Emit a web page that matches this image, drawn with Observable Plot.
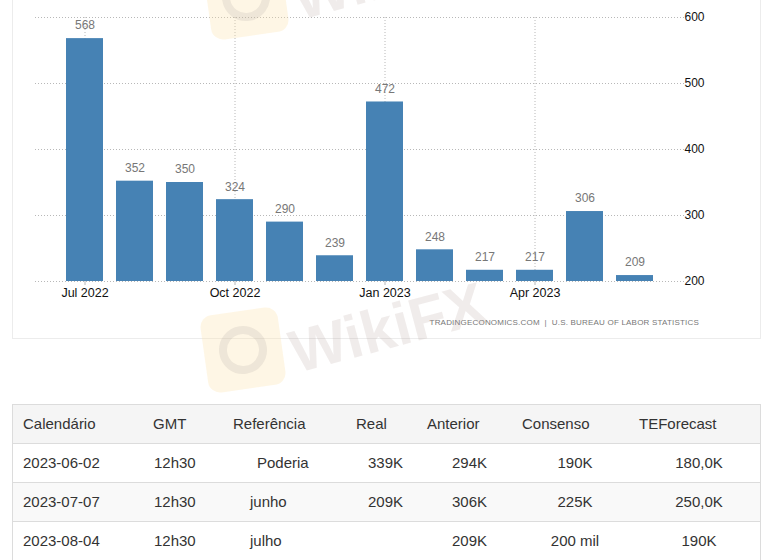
<!DOCTYPE html>
<html>
<head>
<meta charset="utf-8">
<script src="https://cdn.jsdelivr.net/npm/d3@7"></script>
<script src="https://cdn.jsdelivr.net/npm/@observablehq/plot@0.6"></script>
<style>
  html, body { margin: 0; padding: 0; background: #fff; }
  body { width: 769px; height: 560px; position: relative; overflow: hidden; font-family: "Liberation Sans", Arial, sans-serif; }
  #panel { position: absolute; left: 12px; top: -12px; width: 749px; height: 351px; border: 1px solid #ececec; box-sizing: border-box; }
  #chart { position: absolute; left: 0; top: 0; }
  #source { position: absolute; right: 70px; top: 318px; font-size: 8px; letter-spacing: 0.2px; color: #777; white-space: pre; }
  #table { position: absolute; left: 12px; top: 404px; width: 749px; border: 1px solid #dcdcdc; border-bottom: none; box-sizing: border-box; color: #333; font-size: 15px; }
  .row { position: relative; height: 38px; border-bottom: 1px solid #dcdcdc; }
  .row.head { background: #f5f5f5; }
  .row.alt { background: #f9f9f9; }
  .cell { position: absolute; top: 0; line-height: 38px; white-space: nowrap; }
  .wm { position: absolute; pointer-events: none; }
</style>
</head>
<body>
<div id="panel"></div>
<div id="chart"></div>
<div id="source">TRADINGECONOMICS.COM  |  U.S. BUREAU OF LABOR STATISTICS</div>
<div id="table"></div>
<script>
// ---- chart data ----
const months = ["2022-07","2022-08","2022-09","2022-10","2022-11","2022-12","2023-01","2023-02","2023-03","2023-04","2023-05","2023-06"];
const values = [568, 352, 350, 324, 290, 239, 472, 248, 217, 217, 306, 209];
const baseline = 200;
const tickMonths = ["2022-07","2022-10","2023-01","2023-04"];
const tickLabels = ["Jul 2022","Oct 2022","Jan 2023","Apr 2023"];
const yTicks = [200, 300, 400, 500, 600];

// ---- table data ----
const headers = ["Calendário","GMT","Referência","Real","Anterior","Consenso","TEForecast"];
const colCalendar = ["2023-06-02","2023-07-07","2023-08-04"];
const colGMT = ["12h30","12h30","12h30"];
const colRef = ["Poderia","junho","julho"];
const colReal = ["339K","209K",""];
const colPrev = ["294K","306K","209K"];
const colCons = ["190K","225K","200 mil"];
const colTEF = ["180,0K","250,0K","190K"];

const data = months.map((m, i) => ({month: m, value: values[i], base: baseline}));

const chart = Plot.plot({
  width: 769,
  height: 340,
  marginTop: 17,
  marginBottom: 59,
  marginLeft: 35,
  marginRight: 85,
  style: {background: "transparent", fontFamily: "'Liberation Sans', Arial, sans-serif"},
  x: {type: "band", domain: months, paddingInner: 0.265, paddingOuter: 0.576},
  y: {domain: [200, 600]},
  marks: [
    Plot.gridY(yTicks, {stroke: "#b8b8b8", strokeOpacity: 1, strokeDasharray: "1,2"}),
    Plot.gridX(tickMonths, {stroke: "#b8b8b8", strokeOpacity: 1, strokeDasharray: "1,2"}),
    Plot.barY(data, {x: "month", y1: "base", y2: "value", fill: "#4682b4"}),
    Plot.text(data, {x: "month", y: "value", text: d => String(d.value), dy: -13, fill: "#777", fontSize: 12}),
    Plot.axisX(tickMonths, {tickFormat: d => tickLabels[tickMonths.indexOf(d)], tickSize: 4, tickPadding: 3, stroke: "#b8b8b8", fill: "#111", fontSize: 12.5, label: null}),
    Plot.axisY(yTicks, {anchor: "right", tickSize: 0, tickPadding: 0, fill: "#111", fontSize: 12, label: null})
  ]
});
document.getElementById("chart").appendChild(chart);

// ---- table ----
const table = document.getElementById("table");
const headLeft = [10, 140, 220, 343, 414, 509, 626];
const rowPlace = [[10,"left"],[141,"left"],[null,"left"],[390,"right"],[474,"right"],[562,"center"],[686,"center"]];
const refLeft = [244, 237, 237];
function addCell(row, text, pos, align) {
  const c = document.createElement("span");
  c.className = "cell";
  c.textContent = text;
  if (align === "left") c.style.left = pos + "px";
  else if (align === "right") c.style.right = (747 - pos) + "px";
  else { c.style.left = pos + "px"; c.style.transform = "translateX(-50%)"; }
  row.appendChild(c);
}
const head = document.createElement("div");
head.className = "row head";
headers.forEach((h, j) => addCell(head, h, headLeft[j], "left"));
table.appendChild(head);
for (let i = 0; i < colCalendar.length; i++) {
  const r = document.createElement("div");
  r.className = "row" + (i % 2 === 1 ? " alt" : "");
  const vals = [colCalendar[i], colGMT[i], colRef[i], colReal[i], colPrev[i], colCons[i], colTEF[i]];
  vals.forEach((v, j) => {
    const pos = j === 2 ? refLeft[i] : rowPlace[j][0];
    addCell(r, v, pos, rowPlace[j][1]);
  });
  table.appendChild(r);
}
const extra = document.createElement("div");
extra.className = "row alt";
table.appendChild(extra);

// ---- watermark (faint) ----
function watermark(x, y) {
  const sq = document.createElement("div");
  sq.className = "wm";
  Object.assign(sq.style, {left: x + "px", top: y + "px", width: "78px", height: "78px", borderRadius: "12px", background: "rgba(252,226,170,0.30)", transform: "rotate(-8deg)"});
  const circ = document.createElement("div");
  Object.assign(circ.style, {position: "absolute", left: "15px", top: "15px", width: "48px", height: "48px", borderRadius: "50%", border: "8px solid rgba(150,140,140,0.15)", boxSizing: "border-box"});
  sq.appendChild(circ);
  document.body.appendChild(sq);
  const t = document.createElement("div");
  t.className = "wm";
  t.textContent = "WikiFX";
  Object.assign(t.style, {left: (x + 95) + "px", top: (y + 12) + "px", width: "max-content", lineHeight: "60px", fontSize: "60px", fontWeight: "bold", fontFamily: "'Liberation Sans', Arial, sans-serif", color: "rgba(165,140,135,0.17)", transform: "rotate(-15deg)", transformOrigin: "left bottom"});
  document.body.appendChild(t);
}
watermark(207, -42);
watermark(204, 311);
</script>
</body>
</html>
